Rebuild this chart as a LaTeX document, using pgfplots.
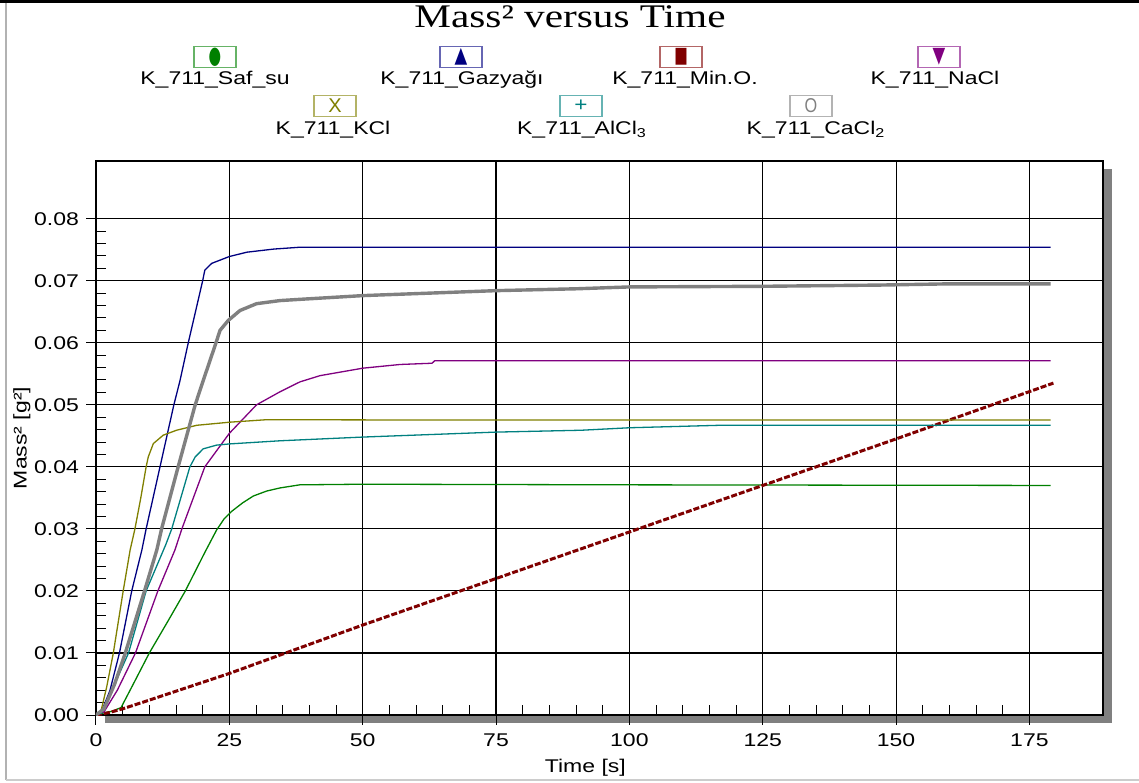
\documentclass[border=0pt]{standalone}
\usepackage{pgfplots}
\pgfplotsset{compat=1.18}
\usepackage{fontspec}
\setmainfont{Liberation Sans}[FakeStretch=1.25]
\newfontfamily\titlefont{Liberation Serif}[FakeStretch=1.25]
\newfontfamily\symfont{DejaVu Sans}
\definecolor{cgreen}{RGB}{0,128,0}
\definecolor{cnavy}{RGB}{0,0,128}
\definecolor{cmaroon}{RGB}{128,0,0}
\definecolor{cpurple}{RGB}{128,0,128}
\definecolor{colive}{RGB}{128,128,0}
\definecolor{cteal}{RGB}{0,128,128}
\definecolor{cgray}{RGB}{128,128,128}
\newcommand{\lfont}{\fontsize{9.2}{10}\selectfont}
\begin{document}
\begin{tikzpicture}
\useasboundingbox (-48pt,-33.5pt) rectangle (521.5pt,357.5pt);
% outer frame
\draw[gray!60, line width=0.8pt] (-45pt,-32.5pt) -- (-45pt,356pt);
\draw[gray!40, line width=0.8pt] (-45pt,-32.5pt) -- (521.5pt,-32.5pt);
\draw[black, line width=1.6pt] (-48pt,356.7pt) -- (521.5pt,356.7pt);
% shadow
\fill[cgray] (4.5pt,-4pt) rectangle (508pt,273pt);
\begin{axis}[
  at={(0pt,0pt)}, anchor=south west, scale only axis,
  width=503.5pt, height=277pt,
  xmin=0, xmax=188.8, ymin=0, ymax=0.0893,
  axis background/.style={fill=white},
  xtick={0,25,50,75,100,125,150,175},
  ytick={0,0.01,0.02,0.03,0.04,0.05,0.06,0.07,0.08},
  scaled y ticks=false, scaled x ticks=false,
  minor x tick num=4, minor y tick num=4,
  tick pos=left, tick align=inside,
  major tick length=-5pt, minor tick length=5pt,
  grid=major, major grid style={black, line width=0.55pt},
  tick style={black, line width=0.5pt},
  axis line style={black, line width=0.6pt},
  /pgf/number format/assume math mode=true,
  yticklabel style={/pgf/number format/.cd, fixed, fixed zerofill, precision=2, /tikz/.cd, font=\lfont, xshift=-5pt},
  xticklabel style={font=\lfont, yshift=-6pt},
  xlabel={Time [s]},
  ylabel={Mass² [g²]},
  xlabel style={at={(axis description cs:0.486,-0.0957)}, anchor=center, font=\lfont},
  ylabel style={at={(axis description cs:-0.0735,0.5)}, anchor=center, font=\lfont},
]
% Saf_su
\addplot[cgreen, line width=0.65pt] coordinates {
(0,0) (1.3,0.0003) (3,0.0006) (4.7,0.0012) (7,0.0050) (10,0.0100) (13.4,0.0150)
(16.75,0.0200) (20.4,0.0262) (22.6,0.0298) (24,0.0316) (25.4,0.0328) (27.5,0.0342)
(29.5,0.0353) (32,0.0361) (34.5,0.0366) (38.2,0.0371) (50,0.0372) (100,0.0371) (179,0.0370)};
% Gazyagi
\addplot[cnavy, line width=0.65pt] coordinates {
(0,0) (1,0.0005) (2.6,0.0039) (4.4,0.0100) (6.7,0.0200) (8.6,0.0266) (9.4,0.0300)
(12,0.0400) (14.6,0.0500) (15.75,0.0539) (17.3,0.0600) (20,0.0700) (20.4,0.0717)
(21.7,0.0728) (25,0.0739) (28.3,0.0746) (33.3,0.0751) (38.25,0.0754) (100,0.0754) (179,0.0754)};
% Min.O.
\addplot[cmaroon, line width=1.5pt, dash pattern=on 3pt off 1pt] coordinates {
(0,0) (2.5,0.0004) (5,0.0010) (10,0.0024) (25,0.0067) (50,0.0145) (75,0.0220)
(100,0.0295) (125,0.0370) (150,0.0445) (179.5,0.0535)};
% NaCl
\addplot[cpurple, line width=0.65pt] coordinates {
(0,0) (1.5,0.0005) (4,0.0040) (7.4,0.0100) (11.6,0.0200) (14.8,0.0266) (16.1,0.0300)
(20.4,0.0400) (25,0.0454) (30.1,0.0500) (34.5,0.0521) (38.25,0.0537) (42,0.0547)
(50,0.0559) (57,0.0565) (63,0.0567) (63.5,0.0571) (100,0.0571) (179,0.0571)};
% KCl
\addplot[colive, line width=0.65pt] coordinates {
(0,0) (0.9,0.0005) (2,0.0045) (3.25,0.0100) (5.1,0.0200) (6.4,0.0266) (7.3,0.0300)
(8.4,0.0350) (9.4,0.0400) (9.8,0.0416) (10.75,0.04375) (12.6,0.0451) (15.1,0.0459)
(18.9,0.0467) (25.1,0.0472) (32,0.0476) (60,0.04755) (179,0.04755)};
% AlCl3
\addplot[cteal, line width=0.65pt] coordinates {
(0,0) (1,0.0003) (3,0.0040) (6.1,0.0100) (9.4,0.0200) (13.1,0.0275) (14.2,0.0300)
(17.6,0.0400) (18.6,0.0416) (20.1,0.0429) (22.6,0.0435) (25.1,0.0437) (34.5,0.0442)
(50,0.0448) (75,0.0456) (91,0.0459) (100,0.0463) (117,0.0467) (179,0.0467)};
% CaCl2
\addplot[cgray, line width=1.7pt] coordinates {
(0,0) (1.5,0.0010) (3.5,0.0050) (5.5,0.0100) (9.1,0.0200) (11.4,0.0266) (12.3,0.0300)
(15.4,0.0400) (18.6,0.0500) (20.1,0.0539) (22.5,0.0600) (23.25,0.0620) (24.8,0.0636)
(27,0.0652) (30.1,0.0663) (34.5,0.0668) (38.25,0.0670) (50,0.0676) (75,0.0684)
(90,0.0687) (100,0.0690) (125,0.0691) (147,0.0693) (160,0.0695) (179,0.0695)};
\end{axis}
% title
\node[font=\titlefont\fontsize{16.5}{18}\selectfont] at (237pt,349pt) {Mass² versus Time};
% legend
\tikzset{lbox/.style={draw=#1!60!white, fill=white, line width=0.6pt, minimum width=21pt, minimum height=10.5pt, inner sep=0pt, text=#1}}
\node[lbox=cgreen] at (59.5pt,329pt) {\symfont\fontsize{12}{12}\selectfont\scalebox{0.6}[1]{●}};
\node[lbox=cnavy] at (182.5pt,329pt) {\symfont\fontsize{11}{11}\selectfont\scalebox{0.75}[1]{▲}};
\node[lbox=cmaroon] at (292.5pt,329pt) {\symfont\fontsize{11}{11}\selectfont\scalebox{0.65}[1]{■}};
\node[lbox=cpurple] at (421.5pt,329pt) {\symfont\fontsize{11}{11}\selectfont\scalebox{0.75}[1]{▼}};
\node[lbox=colive] at (119.5pt,304.5pt) {\fontsize{10}{10}\selectfont\scalebox{0.8}[1]{X}};
\node[lbox=cteal] at (242.5pt,304.5pt) {\fontsize{10}{10}\selectfont\scalebox{0.9}[1]{+}};
\node[lbox=cgray] at (357.5pt,304.5pt) {\fontsize{10}{10}\selectfont\scalebox{0.65}[1]{O}};
\node[font=\lfont] at (59.5pt,317.5pt) {K\_711\_Saf\_su};
\node[font=\lfont] at (183pt,317.5pt) {K\_711\_Gazyağı};
\node[font=\lfont] at (294.5pt,317.5pt) {K\_711\_Min.O.};
\node[font=\lfont] at (419.5pt,317.5pt) {K\_711\_NaCl};
\node[font=\lfont] at (118.5pt,292.5pt) {K\_711\_KCl};
\node[font=\lfont] at (243pt,292.5pt) {K\_711\_AlCl\textsubscript{3}};
\node[font=\lfont] at (360pt,292.5pt) {K\_711\_CaCl\textsubscript{2}};
\end{tikzpicture}
\end{document}
